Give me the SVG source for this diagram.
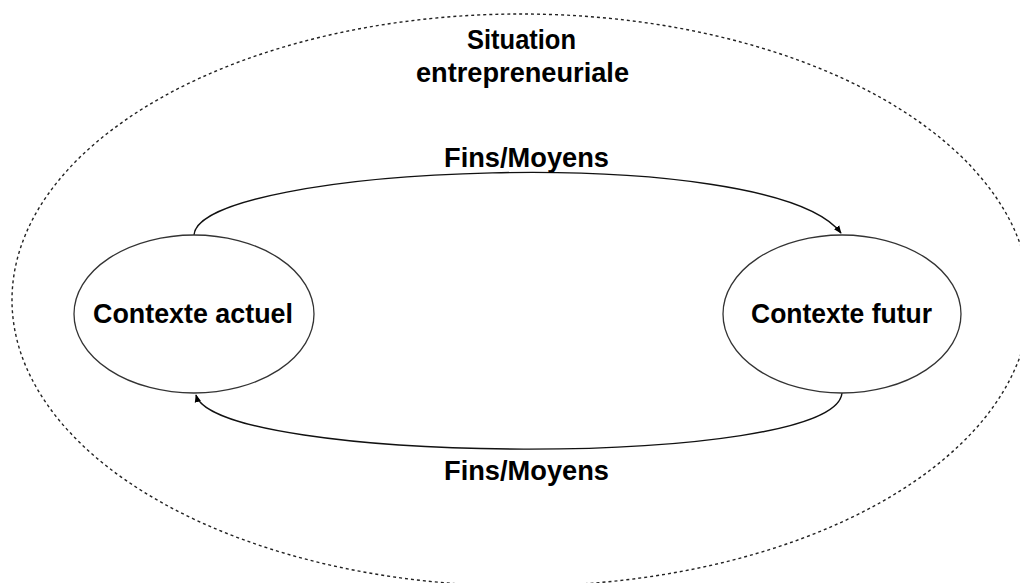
<svg xmlns="http://www.w3.org/2000/svg" width="1020" height="583" viewBox="0 0 1020 583">
<style>
.lbl{font-family:"Liberation Sans",Arial,sans-serif;font-weight:bold;font-size:28px;fill:#000;text-anchor:middle}
.node{fill:#fff;stroke:#333;stroke-width:1.3}
.conn{fill:none;stroke:#111;stroke-width:1.4}
</style>
<defs>
<marker id="arr" viewBox="0 0 10 10" refX="9" refY="5" markerWidth="8" markerHeight="8" orient="auto" markerUnits="userSpaceOnUse">
<path d="M0,1 L10,5 L0,9 z" fill="#000"/>
</marker>
</defs>
<rect width="1020" height="583" fill="#fff"/>
<g id="situation">
<ellipse cx="521" cy="300" rx="509" ry="286" fill="none" stroke="#222" stroke-width="1.4" stroke-dasharray="3 3"/>
<text class="lbl" x="521.5" y="49" textLength="109" lengthAdjust="spacingAndGlyphs">Situation</text>
<text class="lbl" x="522.5" y="82" textLength="213" lengthAdjust="spacingAndGlyphs">entrepreneuriale</text>
</g>
<g id="connectors">
<path class="conn" d="M194,235 C198,165 770,140 841,233" marker-end="url(#arr)"/>
<path class="conn" d="M842,393 C835,470 215,465 196,395" marker-end="url(#arr)"/>
<text class="lbl" x="526.5" y="167" textLength="165" lengthAdjust="spacingAndGlyphs">Fins/Moyens</text>
<text class="lbl" x="526.5" y="480" textLength="165" lengthAdjust="spacingAndGlyphs">Fins/Moyens</text>
</g>
<g id="contexte-actuel">
<ellipse class="node" cx="194" cy="314" rx="120" ry="79"/>
<text class="lbl" x="193" y="323" textLength="200" lengthAdjust="spacingAndGlyphs">Contexte actuel</text>
</g>
<g id="contexte-futur">
<ellipse class="node" cx="842" cy="314" rx="119" ry="79"/>
<text class="lbl" x="841.5" y="323" textLength="181" lengthAdjust="spacingAndGlyphs">Contexte futur</text>
</g>
</svg>
